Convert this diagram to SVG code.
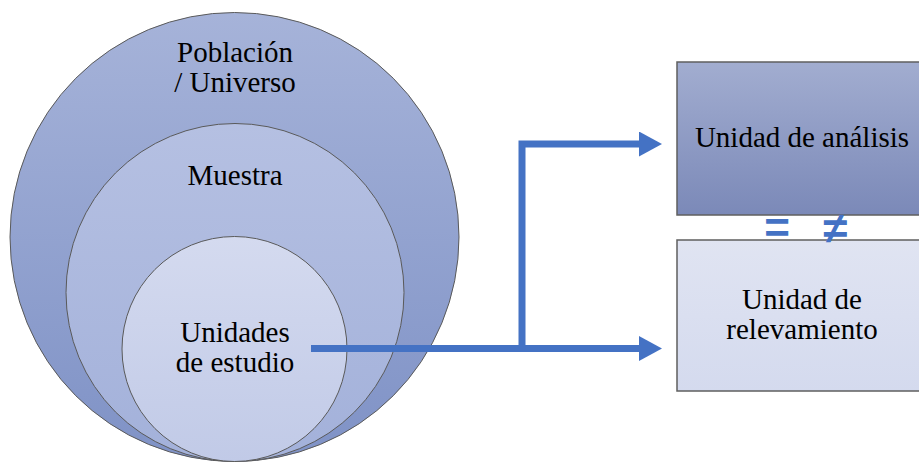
<svg xmlns="http://www.w3.org/2000/svg" width="919" height="462" viewBox="0 0 919 462">
<style>
.lbl{font-family:"Liberation Serif","Times New Roman",serif;font-size:29px;fill:#000;text-anchor:middle}
.circ{stroke:#5a5a5a;stroke-width:1}
.box{stroke:#5f5f5f;stroke-width:1.5}
.conn{fill:none;stroke:#4472c4;stroke-width:7}
.sym{font-family:"Liberation Sans",Arial,sans-serif;font-weight:bold;font-size:44px;fill:#4472c4;text-anchor:middle}
</style>
<defs>
<linearGradient id="gOuter" x1="0" y1="0" x2="0" y2="1">
<stop offset="0" stop-color="#a6b3d9"/><stop offset="1" stop-color="#7f92c6"/>
</linearGradient>
<linearGradient id="gMid" x1="0" y1="0" x2="0" y2="1">
<stop offset="0" stop-color="#b5c0e2"/><stop offset="1" stop-color="#a3b1da"/>
</linearGradient>
<linearGradient id="gIn" x1="0" y1="0" x2="0" y2="1">
<stop offset="0" stop-color="#d4daef"/><stop offset="1" stop-color="#c1cae7"/>
</linearGradient>
<linearGradient id="gB1" x1="0" y1="0" x2="0" y2="1">
<stop offset="0" stop-color="#a2add0"/><stop offset="1" stop-color="#7b89b8"/>
</linearGradient>
<linearGradient id="gB2" x1="0" y1="0" x2="0" y2="1">
<stop offset="0" stop-color="#e0e4f2"/><stop offset="1" stop-color="#d4daee"/>
</linearGradient>
<marker id="arr" markerUnits="userSpaceOnUse" markerWidth="24" markerHeight="26" refX="1" refY="12.5" orient="auto">
<path d="M0,0 L23,12.5 L0,25 Z" fill="#4472c4"/>
</marker>
</defs>
<g id="poblacion">
<circle class="circ" cx="234.5" cy="237" r="224.5" fill="url(#gOuter)"/>
<text class="lbl" x="235" y="62">Población</text>
<text class="lbl" x="235" y="92">/ Universo</text>
</g>
<g id="muestra">
<circle class="circ" cx="235" cy="292.5" r="169" fill="url(#gMid)"/>
<text class="lbl" x="235" y="185">Muestra</text>
</g>
<g id="unidades">
<circle class="circ" cx="234.5" cy="349" r="112.5" fill="url(#gIn)"/>
<text class="lbl" x="235" y="342">Unidades</text>
<text class="lbl" x="235" y="372">de estudio</text>
</g>
<g id="analisis">
<rect class="box" x="677" y="62" width="252" height="153" fill="url(#gB1)"/>
<text class="lbl" x="802" y="147">Unidad de análisis</text>
</g>
<g id="relevamiento">
<rect class="box" x="677" y="240" width="252" height="151" fill="url(#gB2)"/>
<text class="lbl" x="802" y="309">Unidad de</text>
<text class="lbl" x="802" y="339">relevamiento</text>
</g>
<g id="simbolos">
<text class="sym" x="777" y="243">=</text>
<text class="sym" x="835" y="243">≠</text>
</g>
<g id="connectors">
<path class="conn" d="M311,348.5 L640,348.5" marker-end="url(#arr)"/>
<path class="conn" d="M522,348.5 L522,144 L640,144" marker-end="url(#arr)"/>
</g>
</svg>
